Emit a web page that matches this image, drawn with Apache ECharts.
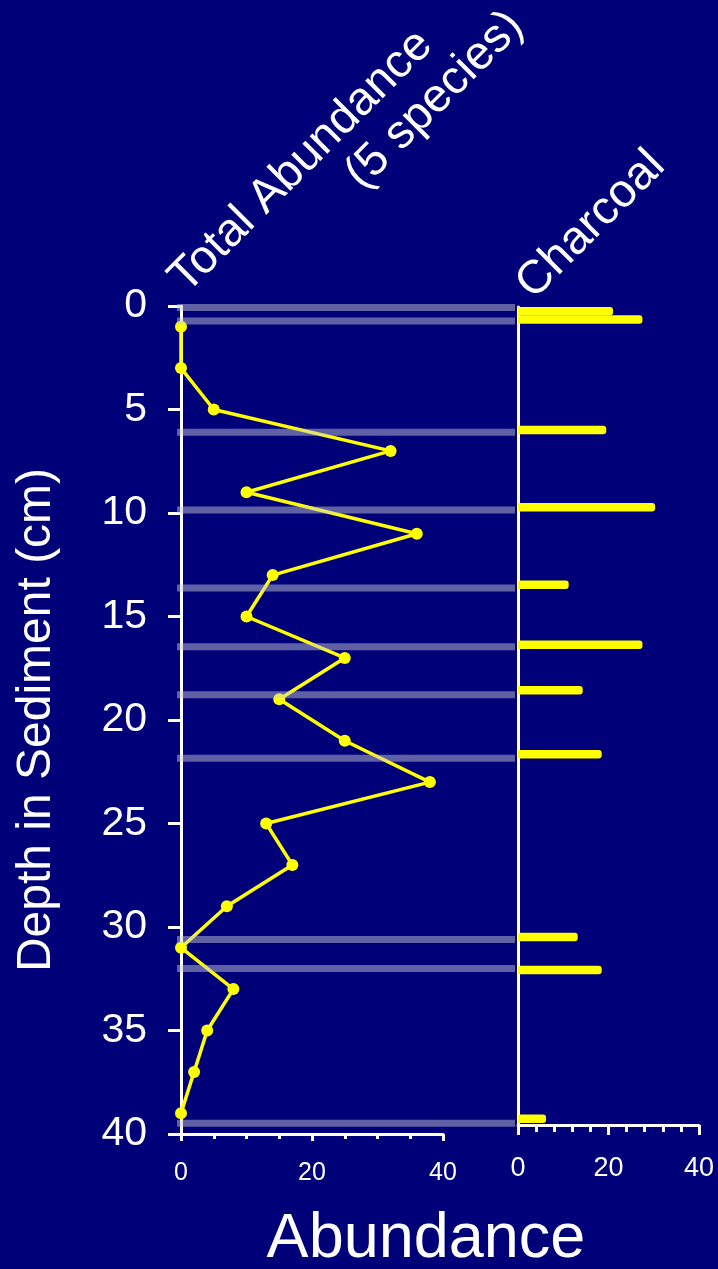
<!DOCTYPE html>
<html>
<head>
<meta charset="utf-8">
<script src="https://cdn.jsdelivr.net/npm/echarts@6/dist/echarts.min.js"></script>
<style>
html,body{margin:0;padding:0;background:#000078;}
#chart{width:718px;height:1269px;}
</style>
</head>
<body>
<div id="chart"></div>
<script>
// Depths (cm) of the abundance samples and total abundance (5 species)
const abundanceDepth = [1, 3, 5, 7, 9, 11, 13, 15, 17, 19, 21, 23, 25, 27, 29, 31, 33, 35, 37, 39];
const abundanceValue = [0, 0, 5, 32, 10, 36, 14, 10, 25, 15, 25, 38, 13, 17, 7, 0, 8, 4, 2, 0];
// Charcoal samples: depth (cm) and amount
const charcoalDepth = [0.2, 0.6, 5.95, 9.7, 13.45, 16.35, 18.55, 21.65, 30.5, 32.1, 39.3];
const charcoalValue = [21, 27.5, 19.5, 30.3, 11.2, 27.5, 14.3, 18.5, 13.2, 18.5, 6.2];
// Depths of the grey sample lines drawn across the abundance panel
const lineDepth = [0.07, 0.72, 6.1, 9.86, 13.62, 16.46, 18.78, 21.85, 30.6, 32.0, 39.48];
const depthTicks = [0, 5, 10, 15, 20, 25, 30, 35, 40];
const abundanceTicks = [0, 20, 40];

const FONT = "'Liberation Sans', Arial, sans-serif";
const chart = echarts.init(document.getElementById('chart'), null, {renderer: 'canvas'});

const axisWhite = {onZero: false, lineStyle: {color: '#ffffff', width: 3}};

const option = {
  backgroundColor: '#000078',
  animation: false,
  grid: [
    {left: 181, top: 306, width: 262, height: 828},
    {left: 518, top: 307, width: 181, height: 818},
    {left: 177, top: 306, width: 338, height: 828}
  ],
  xAxis: [
    {
      gridIndex: 0, type: 'value', position: 'bottom', min: 0, max: 40, interval: 20,
      axisLine: axisWhite,
      axisTick: {show: true, length: 7, lineStyle: {color: '#fff', width: 3}},
      minorTick: {show: true, splitNumber: 4, length: 5, lineStyle: {color: '#fff', width: 3}},
      splitLine: {show: false},
      axisLabel: {color: '#fff', fontSize: 25, fontFamily: FONT, margin: 27,
        formatter: v => abundanceTicks.includes(v) ? String(v) : ''}
    },
    {
      gridIndex: 1, type: 'value', position: 'bottom', min: 0, max: 40, interval: 20,
      axisLine: axisWhite,
      axisTick: {show: true, length: 10, lineStyle: {color: '#fff', width: 3}},
      minorTick: {show: true, splitNumber: 5, length: 7, lineStyle: {color: '#fff', width: 3}},
      splitLine: {show: false},
      axisLabel: {color: '#fff', fontSize: 27, fontFamily: FONT, margin: 30,
        formatter: v => abundanceTicks.includes(v) ? String(v) : ''}
    },
    {gridIndex: 2, type: 'value', min: 0, max: 1, show: false}
  ],
  yAxis: [
    {
      gridIndex: 0, type: 'value', inverse: true, min: 0, max: 40, interval: 5,
      axisLine: axisWhite,
      axisTick: {show: true, length: 13, lineStyle: {color: '#fff', width: 3}},
      splitLine: {show: false},
      axisLabel: {color: '#fff', fontSize: 41, fontFamily: FONT, margin: 34,
        formatter: v => depthTicks.includes(v) ? String(v) : ''},
      name: 'Depth in Sediment (cm)', nameLocation: 'middle', nameRotate: 90, nameGap: 120,
      nameTextStyle: {color: '#fff', fontSize: 48, fontFamily: FONT}
    },
    {
      gridIndex: 1, type: 'value', inverse: true, min: 0, max: 39.6,
      axisLine: axisWhite, axisTick: {show: false}, axisLabel: {show: false},
      splitLine: {show: false}
    },
    {gridIndex: 2, type: 'value', inverse: true, min: 0, max: 40, show: false}
  ],
  series: [
    {
      type: 'line', xAxisIndex: 0, yAxisIndex: 0, z: 3,
      data: abundanceDepth.map((d, i) => [abundanceValue[i], d]),
      symbol: 'circle', symbolSize: 12,
      lineStyle: {color: '#ffff00', width: 3.5},
      itemStyle: {color: '#ffff00'}
    },
    {
      type: 'custom', xAxisIndex: 1, yAxisIndex: 1, z: 4,
      data: charcoalDepth.map((d, i) => [charcoalValue[i], d]),
      renderItem: (params, api) => {
        const p0 = api.coord([0, api.value(1)]);
        const p1 = api.coord([api.value(0), api.value(1)]);
        const h = 8.5;
        return {type: 'rect',
          shape: {x: p0[0], y: p0[1] - h / 2, width: p1[0] - p0[0], height: h, r: [0, 3, 3, 0]},
          style: {fill: '#ffff00'}};
      }
    },
    {
      type: 'custom', xAxisIndex: 2, yAxisIndex: 2, z: 5,
      data: lineDepth.map(d => [1, d]),
      renderItem: (params, api) => {
        const p0 = api.coord([0, api.value(1)]);
        const p1 = api.coord([1, api.value(1)]);
        const h = 7;
        return {type: 'rect',
          shape: {x: p0[0], y: p0[1] - h / 2, width: p1[0] - p0[0], height: h},
          style: {fill: 'rgba(200,200,215,0.48)'}};
      }
    }
  ],
  graphic: [
    {type: 'text', x: 194, y: 302, rotation: Math.PI / 4,
      style: {text: 'Total Abundance', fill: '#fff', font: '47px ' + FONT, align: 'left', verticalAlign: 'bottom'}},
    {type: 'text', x: 370, y: 198, rotation: Math.PI / 4,
      style: {text: '(5 species)', fill: '#fff', font: '47px ' + FONT, align: 'left', verticalAlign: 'bottom'}},
    {type: 'text', x: 541, y: 308, rotation: Math.PI / 4,
      style: {text: 'Charcoal', fill: '#fff', font: '47px ' + FONT, align: 'left', verticalAlign: 'bottom'}},
    {type: 'text', x: 426, y: 1240, 
      style: {text: 'Abundance', fill: '#fff', font: '63px ' + FONT, align: 'center', verticalAlign: 'middle'}}
  ]
};
chart.setOption(option);
</script>
</body>
</html>
